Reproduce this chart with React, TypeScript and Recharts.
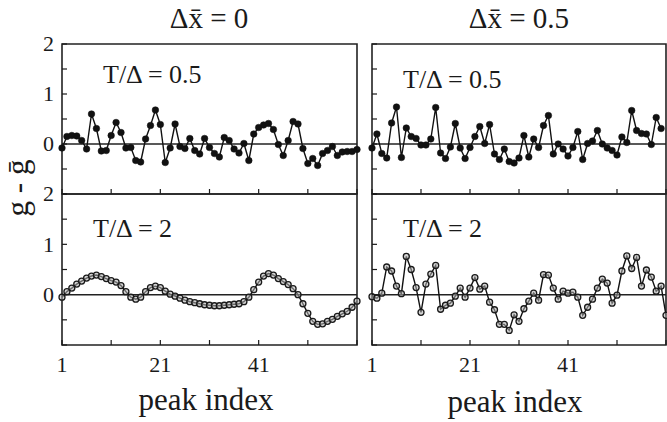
import React from 'react';
import { LineChart, Line, XAxis, YAxis, ReferenceLine, ReferenceArea } from 'recharts';

const W = 667;
const H = 422;
const FONT = '"Liberation Serif", "DejaVu Serif", serif';
const INK = '#1a1a1a';

// x axis ticks (peak index) and which carry labels
const xTicks = [1, 11, 21, 31, 41, 51, 61];
const xLabeled = [1, 21, 41];
// y axis ticks and which carry labels
const yTicks = [-1, -0.5, 0, 0.5, 1, 1.5, 2];
const yLabeled = [0, 1, 2];

const titles = ['\u0394x\u0304 = 0', '\u0394x\u0304 = 0.5'];
const panelLabels = ['T/\u0394 = 0.5', 'T/\u0394 = 2'];

// Δx̄ = 0, T/Δ = 0.5
const topLeft = [
  -0.08, 0.15, 0.17, 0.16, 0.07, -0.10, 0.60, 0.31, -0.14, -0.13,
  0.17, 0.43, 0.23, -0.08, -0.07, -0.33, -0.36, 0.10, 0.37, 0.68,
  0.39, -0.37, -0.08, 0.40, -0.05, -0.09, 0.11, -0.13, -0.20, 0.11,
  -0.07, -0.19, -0.26, 0.13, 0.07, -0.10, -0.18, 0.01, -0.33, 0.20,
  0.33, 0.38, 0.41, 0.29, -0.01, -0.23, 0.07, 0.45, 0.40, -0.09,
  -0.39, -0.29, -0.43, -0.19, -0.13, -0.05, -0.23, -0.16, -0.15, -0.15,
  -0.11,
];
// Δx̄ = 0.5, T/Δ = 0.5
const topRight = [
  -0.08, 0.20, -0.19, -0.28, 0.42, 0.74, -0.27, 0.32, 0.15, 0.11,
  -0.02, -0.02, 0.10, 0.73, -0.18, -0.29, -0.06, 0.41, -0.08, -0.29,
  -0.07, 0.15, 0.35, 0.01, 0.39, -0.20, -0.31, -0.10, -0.35, -0.38,
  -0.28, 0.17, -0.26, 0.10, -0.07, 0.37, 0.57, -0.20, 0.00, -0.10,
  -0.24, -0.07, 0.25, -0.31, 0.01, 0.06, 0.27, 0.00, -0.08, -0.13,
  -0.22, 0.14, 0.03, 0.67, 0.27, 0.21, 0.20, -0.01, 0.53, 0.31,
];
// Δx̄ = 0, T/Δ = 2
const bottomLeft = [
  -0.05, 0.06, 0.13, 0.21, 0.27, 0.33, 0.37, 0.39, 0.36, 0.32,
  0.28, 0.25, 0.18, 0.06, -0.05, -0.09, -0.05, 0.06, 0.14, 0.17,
  0.14, 0.07, 0.01, -0.03, -0.07, -0.11, -0.14, -0.16, -0.18, -0.20,
  -0.21, -0.22, -0.22, -0.21, -0.20, -0.19, -0.18, -0.14, -0.05, 0.10,
  0.25, 0.37, 0.42, 0.39, 0.32, 0.26, 0.20, 0.12, 0.00, -0.18,
  -0.37, -0.53, -0.59, -0.58, -0.53, -0.49, -0.43, -0.38, -0.33, -0.25,
  -0.13,
];
// Δx̄ = 0.5, T/Δ = 2
const bottomRight = [
  -0.04, -0.07, 0.03, 0.55, 0.47, 0.17, 0.02, 0.76, 0.50, 0.14,
  -0.35, 0.21, 0.41, 0.58, -0.29, -0.21, -0.17, -0.03, 0.13, -0.05,
  0.13, 0.34, 0.11, 0.17, -0.15, -0.30, -0.59, -0.59, -0.71, -0.40,
  -0.53, -0.28, -0.13, 0.03, -0.11, 0.40, 0.39, 0.13, -0.09, 0.07,
  0.03, 0.05, -0.05, -0.41, -0.25, -0.09, 0.13, 0.31, 0.23, -0.17,
  -0.01, 0.47, 0.77, 0.52, 0.74, 0.17, 0.49, 0.35, 0.07, 0.17,
  -0.41,
];

const toRows = (vals: number[]) => vals.map((v, i) => ({ idx: i + 1, v }));

const AXIS_W = 30;
const AXIS_H = 30;
const textStyle = { fontFamily: FONT };

type PanelProps = {
  values: number[];
  left: number; right: number; top: number; bottom: number;
  yLabels: boolean; xLabels: boolean; open: boolean;
};

const makeXTick = (showLabels: boolean) => (props: any) => {
  const { x, y, payload } = props;
  const v = payload.value;
  return (
    <g>
      <line x1={x} x2={x} y1={y} y2={y - 5} stroke={INK} strokeWidth={1.2} />
      {showLabels && xLabeled.includes(v) && (
        <text x={x} y={y + 27} textAnchor="middle" style={textStyle} fontSize={22} fill={INK}>{v}</text>
      )}
    </g>
  );
};

const makeYTick = (showLabels: boolean) => (props: any) => {
  const { x, y, payload } = props;
  const v = payload.value;
  return (
    <g>
      <line x1={x} x2={x + 5} y1={y} y2={y} stroke={INK} strokeWidth={1.2} />
      {showLabels && yLabeled.includes(v) && (
        <text x={x - 8} y={y} dy="0.34em" textAnchor="end" style={textStyle} fontSize={22} fill={INK}>{v}</text>
      )}
    </g>
  );
};

const OpenDot = (props: any) => {
  const { cx, cy } = props;
  if (cx == null || cy == null) return null;
  return <circle cx={cx} cy={cy} r={3} fill="#b0b0b0" fillOpacity={0.55} stroke="#1a1a1a" strokeWidth={1.3} />;
};

const Panel = ({ values, left, right, top, bottom, yLabels, xLabels, open }: PanelProps) => (
  <div style={{ position: 'absolute', left: 0, top: 0 }}>
    <LineChart
      width={W}
      height={H}
      data={toRows(values)}
      margin={{ left: left - AXIS_W, right: W - right, top, bottom: H - bottom - AXIS_H }}
    >
      <XAxis
        dataKey="idx"
        type="number"
        domain={[1, 61]}
        ticks={xTicks}
        interval={0}
        height={AXIS_H}
        axisLine={false}
        tickLine={false}
        tickSize={0}
        tickMargin={0}
        tick={makeXTick(xLabels)}
      />
      <YAxis
        type="number"
        domain={[-1, 2]}
        ticks={yTicks}
        interval={0}
        width={AXIS_W}
        axisLine={false}
        tickLine={false}
        tickSize={0}
        tickMargin={0}
        tick={makeYTick(yLabels)}
      />
      <ReferenceArea x1={1} x2={61} y1={-1} y2={2} fill="none" stroke="#222" strokeWidth={1.6} />
      <ReferenceLine y={0} stroke="#222" strokeWidth={1.5} />
      <Line
        dataKey="v"
        stroke="#111"
        strokeWidth={1.4}
        isAnimationActive={false}
        dot={open ? <OpenDot /> : { r: 3.3, fill: '#111', stroke: '#111', strokeWidth: 0.5 }}
        activeDot={false}
      />
    </LineChart>
  </div>
);

export default function App() {
  return (
    <div style={{ position: 'absolute', left: 0, top: 0, width: W, height: H, background: '#fff', overflow: 'hidden' }}>
      <Panel values={topLeft} left={62} right={357} top={44} bottom={194} yLabels xLabels={false} open={false} />
      <Panel values={bottomLeft} left={62} right={357} top={194} bottom={345} yLabels xLabels open />
      <Panel values={topRight} left={372} right={666} top={44} bottom={194} yLabels={false} xLabels={false} open={false} />
      <Panel values={bottomRight} left={372} right={666} top={194} bottom={345} yLabels={false} xLabels open />
      <svg width={W} height={H} style={{ position: 'absolute', left: 0, top: 0, fontFamily: FONT }}>
        <g fill={INK}>
          <text x={209} y={28} textAnchor="middle" fontSize={29} style={textStyle}>{titles[0]}</text>
          <text x={519} y={28} textAnchor="middle" fontSize={29} style={textStyle}>{titles[1]}</text>
          <text x={103} y={83} fontSize={26} style={textStyle}>{panelLabels[0]}</text>
          <text x={403} y={88} fontSize={26} style={textStyle}>{panelLabels[0]}</text>
          <text x={93} y={237} fontSize={26} style={textStyle}>{panelLabels[1]}</text>
          <text x={403} y={237} fontSize={26} style={textStyle}>{panelLabels[1]}</text>
          <text x={206} y={410} textAnchor="middle" fontSize={31} style={textStyle}>peak index</text>
          <text x={515} y={412} textAnchor="middle" fontSize={31} style={textStyle}>peak index</text>
          <text transform="translate(28,188) rotate(-90)" textAnchor="middle" fontSize={31} style={textStyle}>g - g&#772;</text>
        </g>
      </svg>
    </div>
  );
}
